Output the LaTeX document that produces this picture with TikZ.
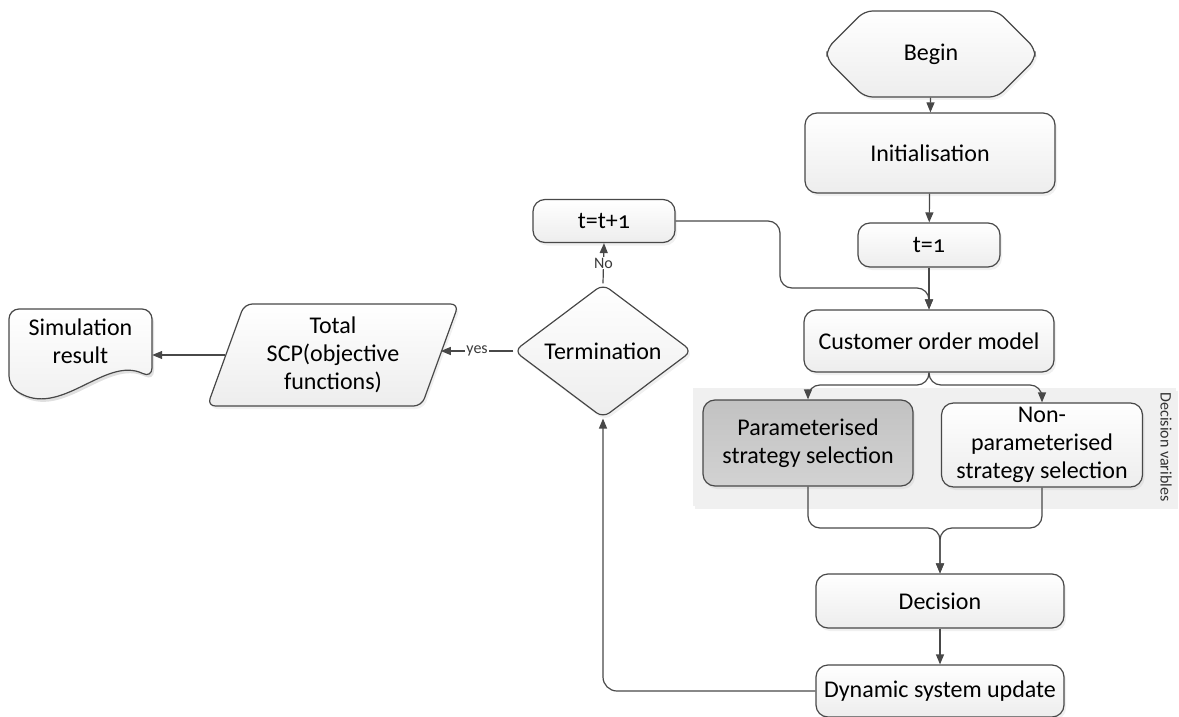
\documentclass[tikz,border=0pt]{standalone}
\usepackage{fontspec}
\setmainfont{Carlito}
\newfontfamily\numfont[Numbers=OldStyle]{Carlito}
\usepackage{tikz}
\usetikzlibrary{shapes.geometric, shapes.misc}
\usetikzlibrary{arrows.meta, shadows, calc}

\definecolor{linegray}{HTML}{484848}
\definecolor{boxtop}{HTML}{FFFFFF}
\definecolor{boxbottom}{HTML}{EDEDED}
\definecolor{bandgray}{HTML}{F0F0F0}
\definecolor{seltop}{HTML}{C2C2C2}
\definecolor{selbottom}{HTML}{D2D2D2}

\tikzset{
    softshadow/.style={drop shadow={opacity=0.12, shadow xshift=2pt, shadow yshift=-3pt}},
    base/.style={draw=linegray, line width=1.2pt, top color=boxtop, bottom color=boxbottom, softshadow,
        align=center, inner sep=0pt, font=\fontsize{24}{28}\selectfont},
    box/.style={base, rectangle, rounded corners=12pt},
    arr/.style={-{Triangle[length=10pt,width=8pt]}, draw=linegray, line width=1.2pt},
    tag/.style={fill=white, inner sep=1pt, font=\fontsize{16}{18}\selectfont, text=linegray!80!black}
}

\begin{document}
\begin{tikzpicture}[x=1pt, y=-1pt]
        \useasboundingbox (0,0) rectangle (1179,717);

        % Draw the band for the decision variables
        \fill[bandgray, softshadow] (693,388) rectangle (1176,506);
        \node[rotate=-90, font=\fontsize{16}{18}\selectfont, text=linegray!70!black] (bandlabel) at (1166,447) {Decision varibles};

        % Draw the main column
        \node[base, chamfered rectangle, chamfered rectangle xsep=33pt, chamfered rectangle ysep=42.9pt,
            minimum width=208pt, minimum height=86pt, rounded corners=8pt] (begin) at (931,54) {Begin};
        \node[box, minimum width=250pt, minimum height=80pt] (init) at (930,153) {Initialisation};
        \node[box, minimum width=142pt, minimum height=44pt] (tone) at (929,245) {\numfont t=1};
        \node[box, minimum width=250pt, minimum height=62pt] (cust) at (929,341) {Customer order model};

        % Draw the two strategy boxes
        \node[box, top color=seltop, bottom color=selbottom, minimum width=210pt, minimum height=86pt] (param) at (808,443) {Parameterised\\strategy selection};
        \node[box, minimum width=201pt, minimum height=84pt] (nonparam) at (1042,445) {Non-\\parameterised\\strategy selection};

        % Draw the decision and the update
        \node[box, minimum width=248pt, minimum height=54pt] (decision) at (940,601) {Decision};
        \node[box, minimum width=248pt, minimum height=52pt] (update) at (940,691) {Dynamic system update};

        % Draw the loop nodes
        \node[box, minimum width=142pt, minimum height=43pt] (tnext) at (604,221) {\numfont t=t+1};
        \node[base, diamond, minimum width=178pt, minimum height=124pt, rounded corners=8pt] (term) at (603,351) {Termination};
        \node[base, trapezium, trapezium left angle=70, trapezium right angle=110, trapezium stretches=true,
            minimum width=252pt, minimum height=102pt, rounded corners=8pt] (total) at (333,355) {Total\\SCP(objective\\functions)};

        % Draw the document shape of the result
        \fill[black, opacity=0.12, rounded corners=10pt] (11,312) -- (154,312) -- (154,381)
            .. controls (107,358) and (62,423) .. (11,389) -- cycle;
        \draw[draw=linegray, line width=1.2pt, top color=boxtop, bottom color=boxbottom, rounded corners=10pt]
            (9,309) -- (152,309) -- (152,378) .. controls (105,355) and (60,420) .. (9,386) -- cycle;
        \node[align=center, font=\fontsize{24}{28}\selectfont, minimum width=143pt, inner sep=0pt] (sim) at (80.5,341) {Simulation\\result};

        % Helper points for the bends
        \coordinate (jog) at (780,288);
        \coordinate (split) at (929,385);
        \coordinate (merge) at (940,528);

        % Draw the arrows of the main column
        \draw[arr] (begin) -- (init);
        \draw[arr] (init) -- (tone);
        \draw[arr] (tone) -- (cust);
        \draw[arr, rounded corners=12pt] (tnext.east) -| (jog) -| (cust.north);
        \draw[arr, rounded corners=12pt] (cust.south) -- (split) -| (param.north);
        \draw[arr, rounded corners=12pt] (cust.south) -- (split) -| (nonparam.north);
        \draw[arr, rounded corners=12pt] (param.south) |- (merge) -- (decision.north);
        \draw[arr, rounded corners=12pt] (nonparam.south) |- (merge) -- (decision.north);
        \draw[arr] (decision) -- (update);

        % Draw the loop back
        \draw[arr, rounded corners=14pt] (update.west) -| (term.south);
        \draw[arr] (term.north) -- node[tag] {No} (tnext.south);
        \draw[arr] (term.west) -- node[tag] {yes} (term.west -| total.east);
        \draw[arr] (total.west) -- (total.west -| sim.east);

    \end{tikzpicture}
\end{document}
